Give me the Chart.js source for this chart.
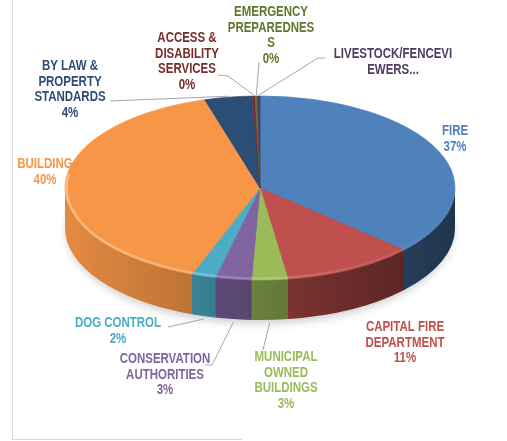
<!DOCTYPE html>
<html>
<head>
<meta charset="utf-8">
<script src="https://cdn.jsdelivr.net/npm/chart.js@4/dist/chart.umd.min.js"></script>
<style>
  html, body { margin: 0; padding: 0; background: #fff; }
  canvas { display: block; }
</style>
</head>
<body>
<canvas id="pie" width="507" height="441"></canvas>
<script>
// slices, clockwise from 12 o'clock
const categories = [
  "FIRE", "CAPITAL FIRE DEPARTMENT", "MUNICIPAL OWNED BUILDINGS",
  "CONSERVATION AUTHORITIES", "DOG CONTROL", "BUILDING",
  "BY LAW & PROPERTY STANDARDS", "ACCESS & DISABILITY SERVICES",
  "EMERGENCY PREPAREDNESS", "LIVESTOCK/FENCEVIEWERS"
];
const shares = [37, 11, 3, 3, 2, 40, 4, 0.2, 0.2, 0.2];
// label text as wrapped on the chart
const labelLines = [
  ["FIRE"], ["CAPITAL FIRE", "DEPARTMENT"], ["MUNICIPAL", "OWNED", "BUILDINGS"],
  ["CONSERVATION", "AUTHORITIES"], ["DOG CONTROL"], ["BUILDING"],
  ["BY LAW &", "PROPERTY", "STANDARDS"], ["ACCESS &", "DISABILITY", "SERVICES"],
  ["EMERGENCY", "PREPAREDNES", "S"], ["LIVESTOCK/FENCEVI", "EWERS..."]
];
const showPct = [true, true, true, true, true, true, true, true, true, false];

const colors = [
  "#4F81BD", "#C0504D", "#9BBB59", "#8064A2", "#4BACC6",
  "#F79646", "#2C4D75", "#772C2A", "#5F7530", "#4D3B62"
];

// ellipse geometry of the tilted pie
const CX = 260, CY = 188, RX = 195, RY = 92, DEPTH = 40;

// label anchors (center x, first line y) and leader elbows
const labelPos = [
  [455, 131], [405, 327], [286, 357], [165, 359], [118, 323],
  [45, 164], [70, 66], [187, 38], [271, 12], [393, 54]
];
const leaders = [
  null, null, [[263, 350]], [[205, 365], [212, 365]], [[168, 327]],
  null, [[110, 101]], [[218, 75], [228, 76]], [[259, 62]], [[325, 58], [318, 58]]
];
const LINE_H = 15.8;
// Liberation Sans squeezed to a narrow face
const FONT = "bold 14px 'Liberation Sans', Arial, sans-serif";
const NARROW = 0.82;

const total = shares.reduce((a, b) => a + b, 0);

function rimPoint(arc) {
  const t = (arc.startAngle + arc.endAngle) / 2;
  const s = Math.sin(t);
  return [CX + RX * Math.cos(t), CY + RY * s + (s > 0 ? DEPTH + 3 : -1)];
}

const pie3d = {
  id: "pie3d",
  beforeDatasetsDraw(chart) {
    const ctx = chart.ctx;
    const meta = chart.getDatasetMeta(0);

    // faint shadow under the pie
    ctx.save();
    ctx.shadowColor = "rgba(0,0,0,0.22)";
    ctx.shadowBlur = 10;
    ctx.shadowOffsetY = 5;
    ctx.fillStyle = "#555";
    ctx.beginPath();
    ctx.ellipse(CX, CY + DEPTH - 2, RX - 2, RY, 0, 0, Math.PI * 2);
    ctx.fill();
    ctx.restore();

    // side wall, only the front half shows
    const shade = ctx.createLinearGradient(CX - RX, 0, CX + RX, 0);
    shade.addColorStop(0, "rgba(0,0,0,0.08)");
    shade.addColorStop(0.5, "rgba(0,0,0,0.32)");
    shade.addColorStop(1, "rgba(0,0,0,0.6)");
    meta.data.forEach((arc, i) => {
      const lo = Math.max(arc.startAngle, 0);
      const hi = Math.min(arc.endAngle, Math.PI);
      if (hi <= lo) return;
      ctx.beginPath();
      ctx.ellipse(CX, CY, RX, RY, 0, lo, hi);
      ctx.ellipse(CX, CY + DEPTH, RX, RY, 0, hi, lo, true);
      ctx.closePath();
      ctx.fillStyle = colors[i];
      ctx.fill();
      ctx.fillStyle = shade;
      ctx.fill();
    });

    // squash the library's round pie onto the ellipse
    const a0 = meta.data[0];
    const r = a0.outerRadius;
    ctx.save();
    ctx.translate(CX, CY);
    ctx.scale(RX / r, RY / r);
    ctx.translate(-a0.x, -a0.y);
  },
  afterDatasetsDraw(chart) {
    const ctx = chart.ctx;
    ctx.restore();
    const meta = chart.getDatasetMeta(0);

    // light bevel along the top rim
    ctx.save();
    const bevel = ctx.createLinearGradient(CX - RX, 0, CX + RX, 0);
    bevel.addColorStop(0, "rgba(255,255,255,0.35)");
    bevel.addColorStop(0.6, "rgba(255,255,255,0.15)");
    bevel.addColorStop(1, "rgba(255,255,255,0)");
    ctx.strokeStyle = bevel;
    ctx.lineWidth = 2.5;
    ctx.beginPath();
    ctx.ellipse(CX, CY, RX - 1.5, RY - 1.5, 0, 0.05, Math.PI * 1.05);
    ctx.stroke();
    ctx.restore();

    // leader lines
    ctx.save();
    ctx.strokeStyle = "#A6A6A6";
    ctx.lineWidth = 1;
    leaders.forEach((pts, i) => {
      if (!pts) return;
      const end = rimPoint(meta.data[i]);
      ctx.beginPath();
      ctx.moveTo(pts[0][0], pts[0][1]);
      pts.slice(1).forEach(p => ctx.lineTo(p[0], p[1]));
      ctx.lineTo(end[0], end[1]);
      ctx.stroke();
    });

    // labels
    ctx.font = FONT;
    ctx.textAlign = "center";
    ctx.textBaseline = "middle";
    labelLines.forEach((lines, i) => {
      const txt = lines.slice();
      if (showPct[i]) txt.push(Math.round(shares[i] / total * 100) + "%");
      ctx.fillStyle = colors[i];
      txt.forEach((t, k) => {
        ctx.save();
        ctx.translate(labelPos[i][0], labelPos[i][1] + k * LINE_H);
        ctx.scale(NARROW, 1);
        ctx.fillText(t, 0, 0);
        ctx.restore();
      });
    });

    // frame edges
    ctx.strokeStyle = "#D9D9D9";
    ctx.beginPath();
    ctx.moveTo(12.5, 0);
    ctx.lineTo(12.5, 440);
    ctx.moveTo(12, 439.5);
    ctx.lineTo(242, 439.5);
    ctx.stroke();
    ctx.restore();
  }
};

new Chart(document.getElementById("pie"), {
  type: "pie",
  data: {
    labels: categories,
    datasets: [{
      data: shares,
      backgroundColor: colors,
      borderColor: colors,
      borderWidth: 1,
      clip: false
    }]
  },
  options: {
    responsive: false,
    animation: false,
    events: [],
    layout: { padding: 20 },
    plugins: {
      legend: { display: false },
      tooltip: { enabled: false }
    }
  },
  plugins: [pie3d]
});
</script>
</body>
</html>
